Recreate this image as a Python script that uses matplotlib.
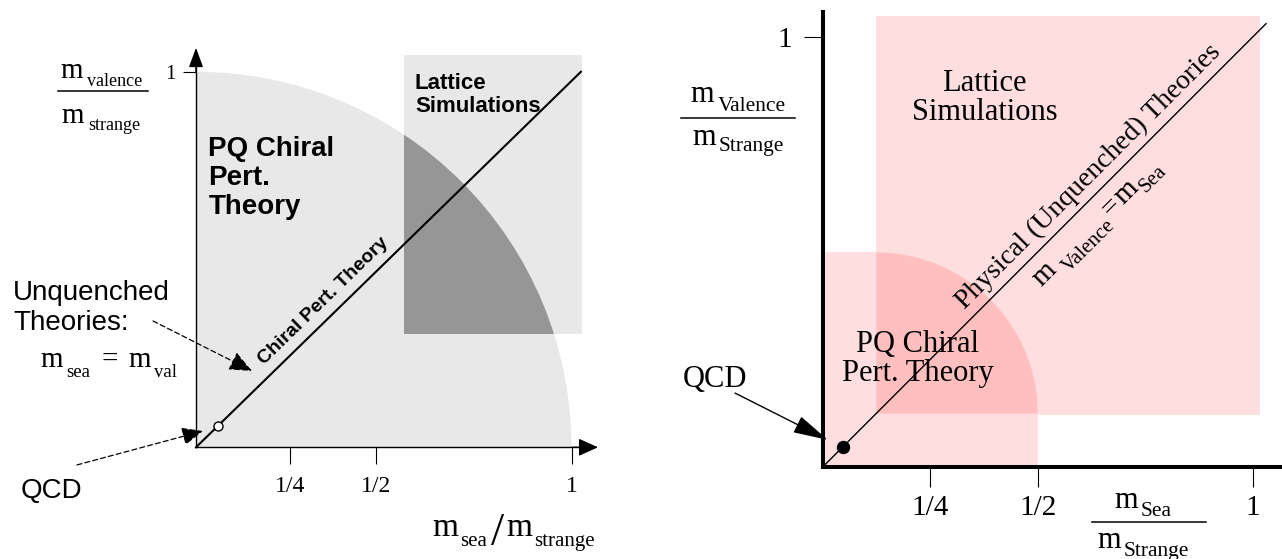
import numpy as np
import matplotlib
matplotlib.use('Agg')
import matplotlib.pyplot as plt
from matplotlib.patches import Wedge, Rectangle
from matplotlib.lines import Line2D
from matplotlib.transforms import IdentityTransform

plt.rcParams['mathtext.fontset'] = 'stix'
plt.rcParams['font.family'] = ['Liberation Serif', 'DejaVu Serif']
SANS = ['Liberation Sans', 'DejaVu Sans']
SERIF = ['Liberation Serif', 'DejaVu Serif']

# ---------------- data: left panel ----------------
left_region_radius = 1.0
left_lattice_x = [0.554, 1.027]
left_lattice_y = [0.301, 1.045]
left_line_end = [1.025, 1.0]
left_qcd_point = [0.058, 0.056]
left_xticks = [0.25, 0.48, 1.0]
left_xticklabels = ['1/4', '1/2', '1']
left_yticks = [1.0]
left_yticklabels = ['1']

# ---------------- data: right panel ----------------
right_lattice_x = [0.124, 1.017]
right_lattice_y = [0.122, 1.049]
right_pq_extent = 0.5
right_pq_corner = [0.125, 0.124]
right_line_end = [1.031, 1.031]
right_qcd_point = [0.047, 0.046]
right_xticks = [0.25, 0.5, 1.0]
right_xticklabels = ['1/4', '1/2', '1']
right_yticks = [1.0]
right_yticklabels = ['1']

W, H = 1282, 559
fig = plt.figure(figsize=(W / 100, H / 100), dpi=100)
renderer = fig.canvas.get_renderer()
IDT = IdentityTransform()


def text_width(s, size):
    t = fig.text(0, 0, s, fontsize=size, family=SERIF)
    w = t.get_window_extent(renderer).width
    t.remove()
    return w


def rich(pieces, X, Y, ha='left', angle=0.0):
    """pieces: (text, size, drop_px, gap_px); X, Y display pixels (y up)."""
    widths = [text_width(p[0], p[1]) for p in pieces]
    total = sum(w + p[3] for w, p in zip(widths, pieces))
    cur = 0.0 if ha == 'left' else -total / 2
    c, s = np.cos(np.radians(angle)), np.sin(np.radians(angle))
    for w, (txt, sz, d, g) in zip(widths, pieces):
        cur += g
        u, v = cur, -d
        fig.text(X + u * c - v * s, Y + u * s + v * c, txt, fontsize=sz,
                 family=SERIF, ha='left', va='baseline', rotation=angle,
                 rotation_mode='anchor', transform=IDT)
        cur += w


def fraction(num, den, cx, y_num, y_bar, y_den, bar_x0, bar_x1, lw=1.1):
    """positions in pixels measured from the top-left corner."""
    rich(num, cx, H - y_num, ha='center')
    rich(den, cx, H - y_den, ha='center')
    fig.add_artist(Line2D([bar_x0, bar_x1], [H - y_bar, H - y_bar],
                          transform=IDT, color='k', lw=lw))


def make_axes(px_left, px_right, origin, unit):
    ax = fig.add_axes([px_left / W, 0, (px_right - px_left) / W, 1])
    ox, oy = origin
    ax.set_xlim((px_left - ox) / unit, (px_right - ox) / unit)
    ax.set_ylim((oy - H) / unit, oy / unit)
    ax.patch.set_visible(False)
    for s in ['top', 'right']:
        ax.spines[s].set_visible(False)
    ax.spines['left'].set_position(('data', 0))
    ax.spines['bottom'].set_position(('data', 0))
    return ax


# ======================= LEFT PANEL =======================
axL = make_axes(0, 640, (196, 447.3), 375.5)
light_gray, dark_gray = '#e8e8e8', '#969696'
axL.add_patch(Wedge((0, 0), left_region_radius, 0, 90, facecolor=light_gray,
                    edgecolor='none', zorder=0))
latL = Rectangle((left_lattice_x[0], left_lattice_y[0]),
                 left_lattice_x[1] - left_lattice_x[0],
                 left_lattice_y[1] - left_lattice_y[0],
                 facecolor=light_gray, edgecolor='none', zorder=0)
axL.add_patch(latL)
darkL = Wedge((0, 0), left_region_radius, 0, 90, facecolor=dark_gray,
              edgecolor='none', zorder=0.5)
axL.add_patch(darkL)
darkL.set_clip_path(latL)

for s in ['left', 'bottom']:
    axL.spines[s].set_linewidth(1.0)
    axL.spines[s].set_zorder(3)
axL.spines['left'].set_bounds(0, 1.03)
axL.spines['bottom'].set_bounds(0, 1.03)
axL.annotate('', xy=(0, 1.064), xytext=(0, 1.0),
             arrowprops=dict(arrowstyle='-|>,head_length=0.6,head_width=0.22',
                             mutation_scale=20, lw=1, color='k',
                             shrinkA=0, shrinkB=0))
axL.annotate('', xy=(1.0706, 0), xytext=(1.0, 0),
             arrowprops=dict(arrowstyle='-|>,head_length=0.6,head_width=0.27',
                             mutation_scale=20, lw=1, color='k',
                             shrinkA=0, shrinkB=0))
axL.set_xticks(left_xticks, left_xticklabels)
axL.set_yticks(left_yticks, left_yticklabels)
axL.tick_params(axis='x', direction='out', length=12, width=0.8, pad=9,
                labelsize=17)
axL.tick_params(axis='y', direction='out', length=9.5, width=0.8, pad=5,
                labelsize=15)

axL.plot([0, left_line_end[0]], [0, left_line_end[1]], color='k', lw=1.5,
         zorder=2)
axL.plot(left_qcd_point[0], left_qcd_point[1], 'o', ms=6.5, mfc='white',
         mec='k', mew=1, zorder=4)

angL = np.degrees(np.arctan2(left_line_end[1], left_line_end[0]))
axL.annotate('Chiral Pert. Theory', xy=(0.368, 0.359), xytext=(-7.8, 8.0),
             textcoords='offset points', ha='center', va='center',
             rotation=angL, rotation_mode='anchor', fontsize=14,
             fontweight='bold', family=SANS)

axL.text(0.033, 0.83, 'PQ Chiral\nPert.\nTheory', ha='left', va='top',
         fontsize=20, fontweight='bold', family=SANS, linespacing=1.15)
axL.text(0.583, 0.997, 'Lattice\nSimulations', ha='left', va='top',
         fontsize=16, fontweight='bold', family=SANS, linespacing=1.1,
         zorder=3)
axL.text(-0.487, 0.446, 'Unquenched\nTheories:', ha='left', va='top',
         fontsize=20, family=SANS, linespacing=1.2)
axL.text(-0.386, -0.135, 'QCD', ha='center', va='baseline', fontsize=20,
         family=SANS)

dash = (0, (4, 2.5))
axL.annotate('', xy=(0.149, 0.2034), xytext=(-0.1145, 0.3364),
             arrowprops=dict(arrowstyle='-|>,head_length=0.7,head_width=0.3',
                             mutation_scale=20, lw=0.9, color='k',
                             linestyle=dash, shrinkA=0, shrinkB=0))
axL.annotate('', xy=(0.0186, 0.0434), xytext=(-0.317, -0.047),
             arrowprops=dict(arrowstyle='-|>,head_length=0.65,head_width=0.28',
                             mutation_scale=20, lw=0.9, color='k',
                             linestyle=dash, shrinkA=0, shrinkB=0))

# m_sea = m_val
rich([('m', 21, 0, 0), ('sea', 13.5, 10, 4), ('=', 21, 0, 11),
      ('m', 21, 0, 11), ('val', 13.5, 10, 3)], 40, H - 367)
# y label (left)
fraction([('m', 21, 0, 0), ('valence', 13, 8, 4)],
         [('m', 21, 0, 0), ('strange', 13, 7, 4)],
         101, 78, 91, 123, 58, 148)
# x label (left)
rich([('m', 24, 0, 0), ('sea', 15, 10, 2), ('/', 34, 9, 4),
      ('m', 24, 0, 2), ('strange', 15, 10, 2)], 432, H - 536)

# ======================= RIGHT PANEL =======================
axR = make_axes(640, 1282, (822.7, 467), 430)
light_pink, dark_pink = '#ffdedf', '#ffbfbf'
axR.add_patch(Rectangle((right_lattice_x[0], right_lattice_y[0]),
                        right_lattice_x[1] - right_lattice_x[0],
                        right_lattice_y[1] - right_lattice_y[0],
                        facecolor=light_pink, edgecolor='none', zorder=0))
cx, cy = right_pq_corner
axR.add_patch(Rectangle((0, 0), right_pq_extent, cy, facecolor=light_pink,
                        edgecolor='none', zorder=0))
axR.add_patch(Rectangle((0, 0), cx, right_pq_extent, facecolor=light_pink,
                        edgecolor='none', zorder=0))
axR.add_patch(Wedge((cx, cy), right_pq_extent - cx, 0, 90,
                    facecolor=dark_pink, edgecolor='none', zorder=0.5))

for s in ['left', 'bottom']:
    axR.spines[s].set_linewidth(2.9)
    axR.spines[s].set_capstyle('projecting')
    axR.spines[s].set_zorder(3)
axR.spines['left'].set_bounds(0, 1.059)
axR.spines['bottom'].set_bounds(0, 1.2)
axR.set_xticks(right_xticks, right_xticklabels)
axR.set_yticks(right_yticks, right_yticklabels)
axR.tick_params(axis='x', direction='out', length=14.4, width=0.8, pad=6,
                labelsize=21)
axR.tick_params(axis='y', direction='out', length=14, width=0.8, pad=8,
                labelsize=21)

axR.plot([0, right_line_end[0]], [0, right_line_end[1]], color='k', lw=1.0,
         zorder=2)
axR.plot(right_qcd_point[0], right_qcd_point[1], 'o', ms=8.6, color='k',
         zorder=4)

angR = np.degrees(np.arctan2(right_line_end[1], right_line_end[0]))
axR.annotate('Physical (Unquenched) Theories', xy=(0.646, 0.646),
             xytext=(-8.9, 8.9), textcoords='offset points', ha='center',
             va='center', rotation=angR, rotation_mode='anchor', fontsize=20)
# m_Valence = m_Sea, below the line
bx, by = axR.transData.transform((0.604, 0.604))
off = 27.5
rich([('m', 21, 0, 0), ('Valence', 15, 9, 6), ('=', 21, 0, 2),
      ('m', 21, 0, 2), ('Sea', 15, 7, 2)],
     bx + off * np.sin(np.radians(angR)), by - off * np.cos(np.radians(angR)),
     ha='center', angle=angR)

axR.text(0.376, 0.926, 'Lattice\nSimulations', ha='center', va='top',
         fontsize=22, linespacing=1.0)
axR.text(0.221, 0.318, 'PQ Chiral\nPert. Theory', ha='center', va='top',
         fontsize=22, linespacing=1.0)
axR.text(-0.25, 0.186, 'QCD', ha='center', va='baseline', fontsize=22)
axR.annotate('', xy=(0.012, 0.063), xytext=(-0.204, 0.172),
             arrowprops=dict(arrowstyle='-|>,head_length=1.1,head_width=0.28',
                             mutation_scale=20, lw=1, color='k',
                             shrinkA=0, shrinkB=0))

fraction([('m', 22, 0, 0), ('Valence', 15.5, 9, 3)],
         [('m', 22, 0, 0), ('Strange', 15.5, 6, 3)],
         738, 102, 118, 145, 681, 795)
fraction([('m', 22, 0, 0), ('Sea', 15.5, 8, 3)],
         [('m', 22, 0, 0), ('Strange', 15.5, 8, 3)],
         1143, 508, 522, 548, 1092, 1206)

fig.savefig('out.png', dpi=100)
